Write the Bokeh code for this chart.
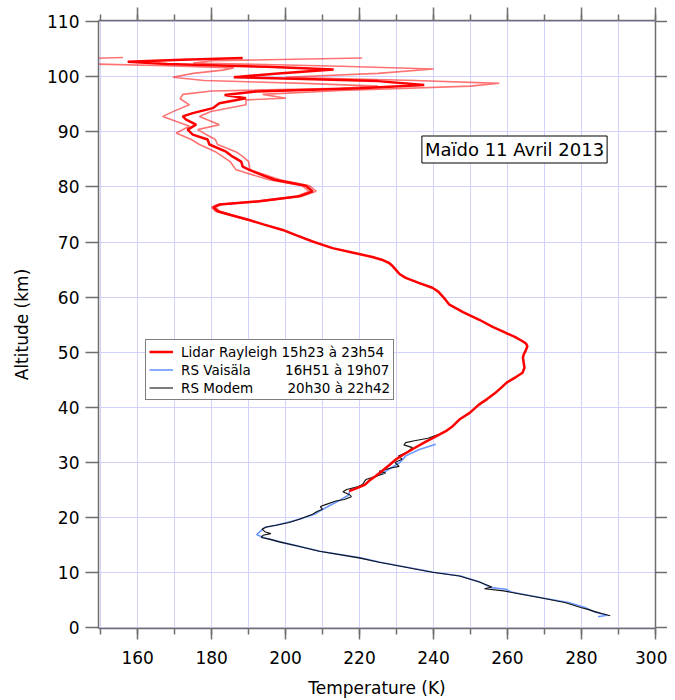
from bokeh.plotting import figure
from bokeh.models import (LinearAxis, SingleIntervalTicker, Range1d, Legend, LegendItem,
                          Label, CustomJSTickFormatter, ColumnDataSource)
from bokeh.embed import file_html
from bokeh.resources import INLINE

# ---------------- data ----------------
# Lidar Rayleigh, central profile
lidar_alt = [24.8, 25.5, 26.0, 26.8, 27.5, 28.2, 28.7, 29.5, 30.6, 31.5, 32.4, 33.5, 34.8, 35.8,
             36.6, 37.8, 39.0, 40.5, 41.5, 42.5, 43.5, 44.5, 45.5, 46.3, 47.2, 48.1, 49.0, 49.6,
             50.4, 51.1, 51.6, 52.0, 52.8, 53.5, 54.6, 55.9, 57.3, 58.7, 59.5, 60.2, 61.0, 61.7,
             62.6, 63.5, 64.2, 65.0, 65.6, 66.2, 66.8, 67.3, 68.1, 68.9, 70.1, 71.2, 72.2, 73.2,
             74.1, 74.9, 75.6, 76.3, 76.8, 77.4, 78.3, 79.2, 80.2, 81.3, 82.2, 83.1, 83.7, 84.6,
             85.5, 86.4, 87.7, 88.6, 89.5, 90.4, 91.3, 92.2, 92.8, 93.4, 94.3, 95.2, 96.1, 96.7,
             97.3, 97.9, 98.5, 99.2, 99.6, 99.9, 100.6, 101.3, 101.8, 102.3, 102.7, 103.1, 103.4]
lidar_T = [217.2, 219.8, 221.5, 222.8, 224.3, 225.6, 226.5, 228.0, 229.9, 232.0, 234.3, 237.2, 240.8, 243.6,
           245.2, 247.0, 249.8, 252.3, 254.5, 256.5, 258.2, 259.8, 262.3, 264.1, 264.6, 264.4, 264.2, 264.4,
           265.0, 265.4, 265.0, 264.1, 262.0, 259.6, 256.0, 252.4, 248.0, 244.2, 243.3, 242.4, 241.3, 239.7,
           236.0, 232.5, 230.8, 229.8, 229.0, 228.0, 226.0, 223.5, 218.0, 212.7, 207.3, 203.0, 199.2, 194.0,
           189.7, 185.2, 181.6, 180.5, 182.1, 192.9, 203.7, 207.3, 205.5, 197.0, 193.5, 190.2, 188.4, 188.0,
           185.7, 183.9, 179.4, 178.9, 174.9, 173.5, 175.8, 173.1, 172.2, 174.9, 180.3, 182.1, 189.3, 183.5,
           192.0, 220.0, 237.5, 225.0, 205.0, 186.0, 198.0, 213.0, 195.0, 168.0, 157.3, 172.0, 188.4]

# Lidar envelope (cold side)
lidar_lo_alt = [74.0, 75.6, 76.3, 76.8, 77.4, 78.3, 79.2, 80.2, 81.3, 83.1, 84.6, 85.5, 86.4, 87.7,
                88.6, 89.8, 91.0, 92.8, 93.8, 94.9, 96.0, 96.8, 97.4, 97.9, 98.3, 98.8, 99.3, 99.9,
                100.6, 101.2, 101.6, 102.0, 102.3, 102.8, 103.2, 103.5]
lidar_lo_T = [189.7, 181.0, 180.0, 181.5, 192.0, 203.0, 206.4, 204.5, 195.5, 186.6, 185.0, 183.0, 181.0, 176.7,
              174.5, 170.4, 174.0, 166.8, 170.0, 174.0, 171.5, 172.2, 180.0, 215.0, 225.0, 205.0, 178.0, 169.5,
              175.0, 183.0, 186.0, 168.0, 148.0, 140.0, 142.0, 156.0]

# Lidar envelope (warm side)
lidar_hi_alt = [74.0, 75.6, 76.3, 76.8, 77.4, 78.3, 79.2, 80.2, 81.3, 83.1, 84.6, 85.5, 86.4, 87.7,
                88.6, 89.2, 90.4, 91.3, 92.8, 93.7, 94.9, 95.8, 96.1, 96.8, 97.5, 98.3, 98.8, 99.3,
                99.9, 100.6, 101.4, 101.9, 102.5, 102.9, 103.4]
lidar_hi_T = [189.7, 182.2, 181.0, 182.7, 193.8, 204.4, 208.3, 206.5, 198.5, 190.4, 190.0, 188.5, 186.5, 181.6,
              181.0, 179.4, 176.2, 182.1, 176.7, 179.8, 189.3, 189.3, 200.1, 193.8, 215.0, 250.0, 257.8, 235.0,
              200.0, 225.0, 240.0, 215.0, 175.0, 180.0, 220.7]

# RS Vaisala
vais_alt = [2.0, 2.3, 2.9, 3.7, 4.6, 5.5, 6.5, 7.0, 7.3, 8.3, 9.4, 10.1, 11.9, 12.7, 13.9, 15.6, 16.3,
            16.9, 17.4, 18.2, 18.7, 19.3, 19.9, 20.6, 21.4, 22.3, 23.2, 24.0, 25.0, 26.0, 27.0, 28.0,
            29.0, 30.0, 31.2, 32.3, 33.3]
vais_T = [284.5, 287.0, 283.5, 281.0, 276.5, 268.8, 261.0, 259.6, 255.5, 252.6, 247.3, 240.0, 225.6, 220.2,
          209.3, 198.5, 194.5, 192.2, 193.0, 194.3, 198.0, 201.5, 204.6, 207.8, 209.8, 212.2, 214.8, 216.9,
          217.5, 221.5, 223.0, 226.0, 228.5, 230.9, 232.5, 236.0, 240.6]

# RS Modem
modem_alt = [2.2, 2.6, 2.9, 3.4, 3.7, 4.2, 4.6, 5.5, 6.2, 6.7, 7.1, 7.4, 8.3, 9.4, 10.1, 11.0, 11.9,
             12.7, 13.9, 14.8, 15.6, 16.1, 16.4, 16.8, 17.1, 17.4, 17.9, 18.3, 18.6, 19.1, 19.7, 20.6,
             21.1, 21.5, 22.0, 22.4, 23.0, 23.3, 23.8, 24.2, 24.7, 25.1, 25.6, 26.0, 26.9, 27.5, 28.1,
             28.4, 29.0, 29.3, 30.0, 30.6, 31.2, 31.9, 32.7, 33.2, 33.6, 33.9, 34.4, 35.1]
modem_T = [287.8, 285.5, 283.9, 281.5, 279.8, 277.5, 275.5, 268.6, 263.0, 259.0, 253.8, 255.8, 252.4, 247.0,
           239.7, 232.5, 225.3, 219.9, 209.1, 203.5, 198.3, 195.6, 193.4, 193.9, 196.0, 194.5, 193.6, 194.8,
           197.4, 201.0, 203.7, 207.3, 208.5, 210.0, 209.4, 211.0, 213.6, 215.9, 217.8, 217.2, 215.5, 216.5,
           219.5, 220.8, 221.7, 224.5, 227.1, 225.3, 228.5, 230.7, 229.6, 231.5, 230.5, 233.0, 234.3, 232.0,
           232.5, 234.5, 238.5, 241.5]

legend_labels = ["Lidar Rayleigh 15h23 à 23h54",
                 "RS Vaisäla\u00a0\u00a0\u00a0\u00a0\u00a0\u00a0\u00a0 16H51 à 19h07",
                 "RS Modem\u00a0\u00a0\u00a0\u00a0\u00a0\u00a0\u00a0 20h30 à 22h42"]
annotation = "Maïdo 11 Avril 2013"
x_label = "Temperature (K)"
y_label = "Altitude (km)"

# ---------------- figure ----------------
FONT = "DejaVu Sans"
AX_COL = "#6e6e6e"
GRID_COL = "#d2d2ff"

p = figure(output_backend="svg", toolbar_location=None,
           frame_width=557, frame_height=608,
           min_border_left=98, min_border_top=20, min_border_right=11, min_border_bottom=50,
           x_range=Range1d(149.4, 300.05), y_range=Range1d(-0.12, 110.2),
           x_axis_label=x_label, y_axis_label=y_label)
p.outline_line_color = None
p.background_fill_color = "white"

xt = SingleIntervalTicker(interval=20, num_minor_ticks=2)
yt = SingleIntervalTicker(interval=10, num_minor_ticks=0)
p.xaxis.ticker = xt
p.yaxis.ticker = yt

for ax in (p.xaxis[0], p.yaxis[0]):
    ax.axis_line_color = AX_COL
    ax.axis_line_width = 1.5
    ax.major_tick_line_color = AX_COL
    ax.major_tick_line_width = 1.5
    ax.minor_tick_line_color = AX_COL
    ax.minor_tick_line_width = 1.5
    ax.major_tick_in = 0
    ax.minor_tick_in = 0
    ax.major_label_text_font = FONT
    ax.major_label_text_font_size = "17px"
    ax.major_label_text_color = "black"
    ax.axis_label_text_font = FONT
    ax.axis_label_text_font_size = "17px"
    ax.axis_label_text_font_style = "normal"
    ax.axis_label_text_color = "black"

p.xaxis.major_tick_out = 11
p.xaxis.minor_tick_out = 6
p.xaxis.major_label_standoff = 11
p.xaxis.axis_label_standoff = 11
p.yaxis.major_tick_out = 13
p.yaxis.minor_tick_line_color = None
p.yaxis.major_label_standoff = 6
p.yaxis.axis_label_standoff = 12

empty = CustomJSTickFormatter(code="return ''")
top = LinearAxis(ticker=SingleIntervalTicker(interval=20, num_minor_ticks=2), formatter=empty,
                 axis_line_color=AX_COL, axis_line_width=1.5,
                 major_tick_line_color=AX_COL, major_tick_line_width=1.5, major_tick_in=0, major_tick_out=13,
                 minor_tick_line_color=AX_COL, minor_tick_line_width=1.5, minor_tick_in=0, minor_tick_out=6,
                 major_label_text_font_size="0px", major_label_standoff=0)
right = LinearAxis(ticker=SingleIntervalTicker(interval=10, num_minor_ticks=0), formatter=empty,
                   axis_line_color=AX_COL, axis_line_width=1.5,
                   major_tick_line_color=AX_COL, major_tick_line_width=1.5, major_tick_in=0, major_tick_out=12,
                   minor_tick_line_color=None,
                   major_label_text_font_size="0px", major_label_standoff=0)
p.add_layout(top, "above")
p.add_layout(right, "right")

p.xgrid.grid_line_color = GRID_COL
p.xgrid.minor_grid_line_color = GRID_COL
p.ygrid.grid_line_color = GRID_COL
for g in (p.xgrid[0], p.ygrid[0]):
    g.grid_line_width = 1
    g.minor_grid_line_width = 1

# ---------------- data renderers ----------------
src_lo = ColumnDataSource(dict(T=lidar_lo_T, z=lidar_lo_alt))
src_hi = ColumnDataSource(dict(T=lidar_hi_T, z=lidar_hi_alt))
src_li = ColumnDataSource(dict(T=lidar_T, z=lidar_alt))
src_va = ColumnDataSource(dict(T=vais_T, z=vais_alt))
src_mo = ColumnDataSource(dict(T=modem_T, z=modem_alt))

p.line("T", "z", source=src_lo, line_color="#ff0000", line_alpha=0.55, line_width=1.6)
p.line("T", "z", source=src_hi, line_color="#ff0000", line_alpha=0.55, line_width=1.6)
r_va = p.line("T", "z", source=src_va, line_color="#6a98ff", line_width=1.6)
r_mo = p.line("T", "z", source=src_mo, line_color="#111111", line_width=1.1)
r_li = p.line("T", "z", source=src_li, line_color="#ff0000", line_width=2.5)

legend = Legend(items=[LegendItem(label=legend_labels[0], renderers=[r_li]),
                       LegendItem(label=legend_labels[1], renderers=[r_va]),
                       LegendItem(label=legend_labels[2], renderers=[r_mo])],
                location=(47, 228), orientation="vertical",
                label_text_font=FONT, label_text_font_size="13.5px", label_text_color="black",
                border_line_color="black", border_line_width=1, background_fill_color="white",
                background_fill_alpha=1.0, padding=3, spacing=1, margin=0,
                glyph_width=24, glyph_height=17, label_height=17, label_standoff=8)
p.add_layout(legend, "center")

p.add_layout(Label(x=416, y=479, x_units="screen", y_units="screen", text=annotation,
                   text_align="center", text_baseline="middle", text_font=FONT,
                   text_font_size="18px", text_color="black",
                   border_line_color="black", border_line_width=1,
                   background_fill_color="white", padding=3))

open("out.html", "w").write(file_html(p, INLINE))
